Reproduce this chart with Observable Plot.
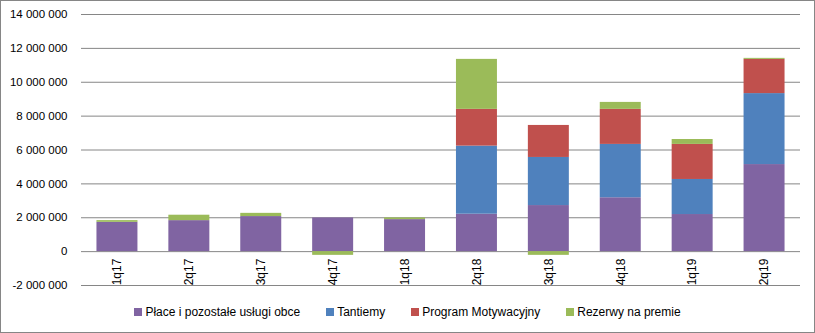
<!DOCTYPE html>
<html><head><meta charset="utf-8">
<script src="https://cdn.jsdelivr.net/npm/d3@7"></script>
<script src="https://cdn.jsdelivr.net/npm/@observablehq/plot@0.6"></script>
<style>
body{margin:0;background:#fff;font-family:"Liberation Sans",Arial,sans-serif;}
#wrap{position:relative;width:815px;height:333px;overflow:hidden;background:#fff}
#frame{position:absolute;left:0;top:0;width:813px;height:331px;border:1px solid #868686;pointer-events:none}
#chart{position:absolute;left:0;top:0}
#legend{position:absolute;left:0;top:305px;width:815px;height:14px;display:flex;justify-content:center;align-items:center;font-size:12px;gap:26px;color:#000}
.item{display:flex;align-items:center;gap:3px;white-space:nowrap}
.sw{width:8px;height:8px;display:inline-block}
</style></head><body>
<div id="wrap"><div id="chart"></div><div id="legend"></div><div id="frame"></div></div>
<script>
const categories = ["1q17","2q17","3q17","4q17","1q18","2q18","3q18","4q18","1q19","2q19"];
const series = ["Płace i pozostałe usługi obce","Tantiemy","Program Motywacyjny","Rezerwy na premie"];
const colors = ["#8064A2","#4F81BD","#C0504D","#9BBB59"];
const place    = [1730000,1830000,2070000,1990000,1890000,2210000,2720000,3180000,2190000,5140000];
const tantiemy = [0,0,0,0,0,4020000,2840000,3150000,2070000,4190000];
const program  = [0,0,0,0,0,2170000,1890000,2070000,2070000,2020000];
const rezerwy  = [100000,320000,190000,-220000,100000,2950000,-220000,410000,290000,60000];
const yTicks = [-2000000,0,2000000,4000000,6000000,8000000,10000000,12000000,14000000];

const values = [place, tantiemy, program, rezerwy];
const data = [];
categories.forEach((c, i) => {
  series.forEach((s, j) => {
    if (values[j][i] !== 0) data.push({cat: c, series: s, value: values[j][i]});
  });
});

const fmt = v => d3.format(",d")(v).replace(/,/g, " ").replace("\u2212", "-");

const chart = Plot.plot({
  width: 815, height: 295,
  marginTop: 14, marginBottom: 10, marginLeft: 81, marginRight: 15,
  style: {fontFamily: '"Liberation Sans", Arial, sans-serif', fontSize: "11.5px", color: "#000", background: "transparent"},
  x: {domain: categories, paddingInner: 0.43, paddingOuter: 0.215, round: false, axis: null},
  y: {domain: [-2000000, 14000000], axis: null},
  color: {domain: series, range: colors},
  marks: [
    Plot.ruleY(yTicks, {stroke: "#868686", strokeWidth: 1, strokeOpacity: 1}),
    Plot.barY(data, {x: "cat", y: "value", fill: "series", order: series}),
    Plot.axisY(yTicks, {tickSize: 0, tickPadding: 14, tickFormat: fmt, label: null, fill: "#000"}),
    Plot.text(categories, {x: d => d, y: 0, text: d => d, rotate: -90, textAnchor: "end", dy: 7, fill: "#000", fontSize: 12})
  ]
});
document.getElementById("chart").appendChild(chart);

const legend = document.getElementById("legend");
series.forEach((s, j) => {
  const item = document.createElement("div");
  item.className = "item";
  const sw = document.createElement("span");
  sw.className = "sw";
  sw.style.background = colors[j];
  const t = document.createElement("span");
  t.textContent = s;
  item.appendChild(sw); item.appendChild(t);
  legend.appendChild(item);
});
</script>
</body></html>
